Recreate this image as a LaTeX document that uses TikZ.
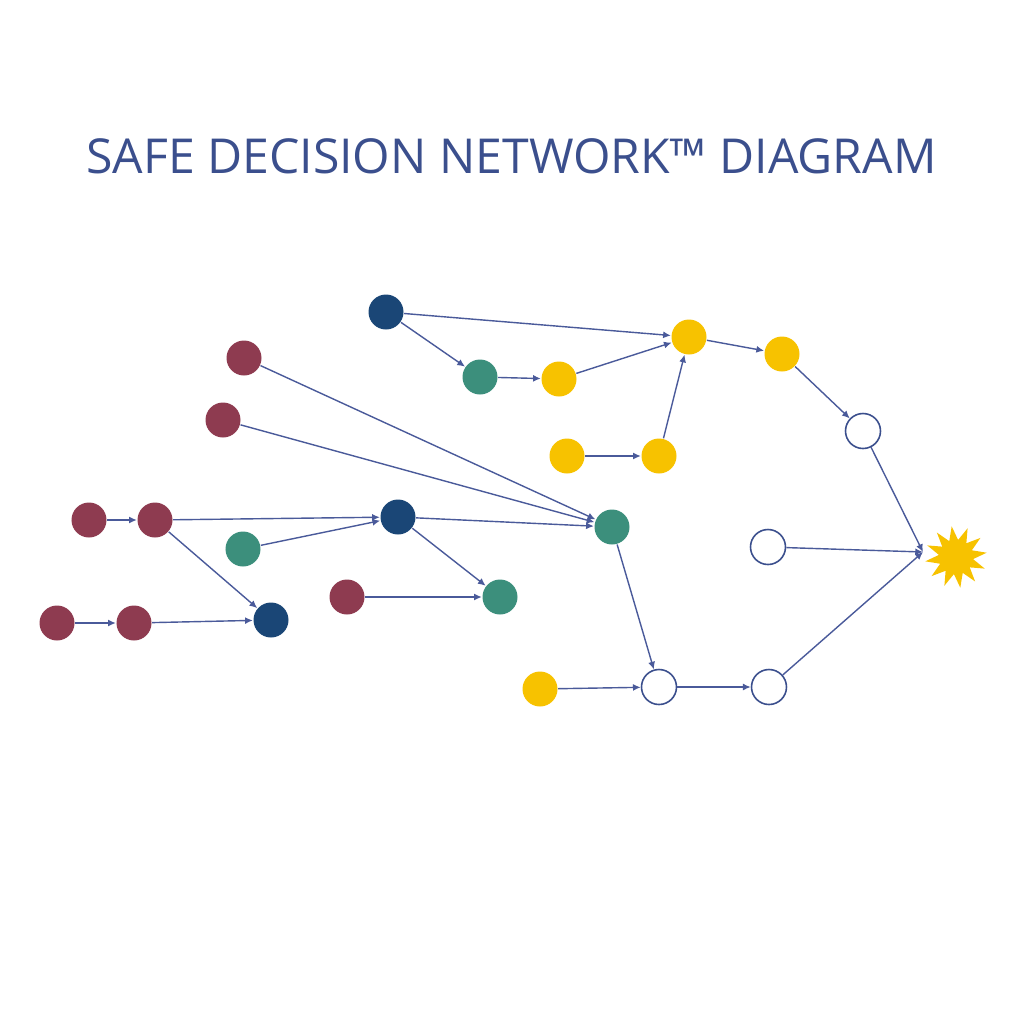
\documentclass[tikz,border=0pt]{standalone}
\usepackage{fontspec}
\setmainfont{Open Sans}
\usetikzlibrary{arrows.meta,shapes.geometric}

\definecolor{titleBlue}{HTML}{3B4F8D}
\definecolor{lineBlue}{HTML}{4A5A9A}
\definecolor{darkBlue}{HTML}{1A4676}
\definecolor{wine}{HTML}{8E3B50}
\definecolor{teal}{HTML}{3C8F7C}
\definecolor{gold}{HTML}{F7C200}

\begin{document}
\begin{tikzpicture}[
    dot/.style={circle, minimum size=0.35cm, inner sep=0pt},
    red dot/.style={dot, fill=wine},
    blue dot/.style={dot, fill=darkBlue},
    green dot/.style={dot, fill=teal},
    yellow dot/.style={dot, fill=gold},
    open dot/.style={dot, draw=titleBlue, line width=0.45pt, fill=white},
    link/.style={draw=lineBlue, line width=0.4pt, -{Latex[length=2.2pt,width=2pt]}}
]

    %% Safe decision network

    \useasboundingbox (0,0) rectangle (10.24,-10.24);

    % Title
    \node[text=titleBlue, font=\fontsize{13.7}{16}\selectfont, anchor=base] (title) at (5.115,-1.73) {SAFE DECISION NETWORK™ DIAGRAM};

    % Red nodes
    \node[red dot] (r1) at (2.44,-3.58) {};
    \node[red dot] (r2) at (2.23,-4.20) {};
    \node[red dot] (r3) at (0.89,-5.20) {};
    \node[red dot] (r4) at (1.55,-5.20) {};
    \node[red dot] (r5) at (0.57,-6.23) {};
    \node[red dot] (r6) at (1.34,-6.23) {};
    \node[red dot] (r7) at (3.47,-5.97) {};

    % Blue nodes
    \node[blue dot] (b1) at (3.86,-3.12) {};
    \node[blue dot] (b2) at (3.98,-5.17) {};
    \node[blue dot] (b3) at (2.71,-6.20) {};

    % Green nodes
    \node[green dot] (g1) at (4.80,-3.77) {};
    \node[green dot] (g2) at (2.43,-5.49) {};
    \node[green dot] (g3) at (6.12,-5.27) {};
    \node[green dot] (g4) at (5.00,-5.97) {};

    % Yellow nodes
    \node[yellow dot] (y1) at (5.59,-3.79) {};
    \node[yellow dot] (y2) at (6.89,-3.37) {};
    \node[yellow dot] (y3) at (7.82,-3.54) {};
    \node[yellow dot] (y4) at (5.67,-4.56) {};
    \node[yellow dot] (y5) at (6.59,-4.56) {};
    \node[yellow dot] (y6) at (5.40,-6.89) {};

    % Open nodes
    \node[open dot] (w1) at (8.63,-4.31) {};
    \node[open dot] (w2) at (7.68,-5.47) {};
    \node[open dot] (w3) at (6.59,-6.87) {};
    \node[open dot] (w4) at (7.69,-6.87) {};

    % Goal
    \node[star, star points=12, star point ratio=1.8, minimum size=0.62cm, inner sep=0pt, fill=gold, rotate=8] (goal) at (9.56,-5.57) {};
    \coordinate (hit) at (9.23,-5.52);

    % Edges
    \foreach \a/\b in {r3/r4, r5/r6, r4/b2, r4/b3, r6/b3, g2/b2, b2/g3, b2/g4,
                       r7/g4, r1/g3, r2/g3, b1/g1, b1/y2, g1/y1, y1/y2, y4/y5,
                       y5/y2, y2/y3, y3/w1, g3/w3, y6/w3, w3/w4}
        \draw[link] (\a) -- (\b);
    \foreach \a in {w1,w2,w4}
        \draw[link] (\a) -- (hit);

\end{tikzpicture}
\end{document}
